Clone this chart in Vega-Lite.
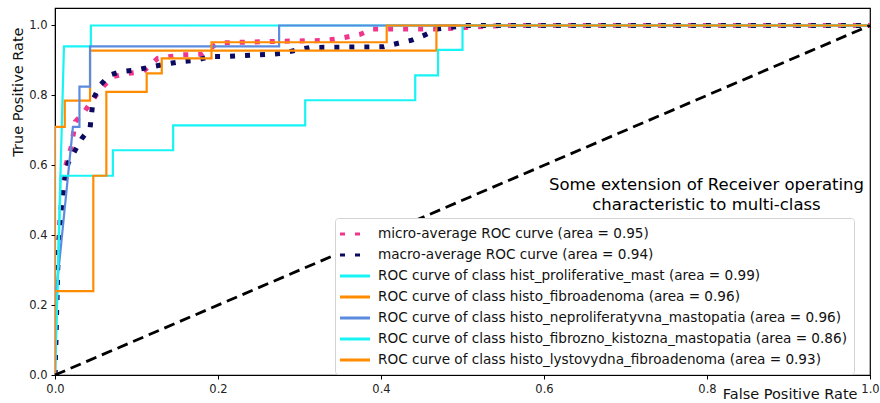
{
  "$schema": "https://vega.github.io/schema/vega-lite/v6.json",
  "autosize": "none",
  "width": 815,
  "height": 367,
  "padding": {"left": 55, "top": 8, "right": 10, "bottom": 28},
  "background": "white",
  "config": {
    "font": "DejaVu Sans",
    "view": {"stroke": "black", "strokeWidth": 1.2},
    "axis": {"grid": false, "labelFont": "DejaVu Sans", "labelFontSize": 11.5, "labelColor": "#222", "labelPadding": 4, "tickColor": "black", "domainColor": "black", "tickSize": 4, "titleFont": "DejaVu Sans", "titleFontWeight": "normal", "titleColor": "#111", "titleFontSize": 14.5}
  },
  "title": {
    "text": ["Some extension of Receiver operating", "characteristic to multi-class"],
    "font": "DejaVu Sans", "fontSize": 16.5, "fontWeight": "normal", "color": "black",
    "anchor": "middle", "frame": "group", "baseline": "top", "offset": 0, "dx": 244, "dy": 205, "lineHeight": 19.5
  },
  "datasets": {
    "curves": [
      {"s": "micro-average ROC curve (area = 0.95)", "i": 0, "x": 0, "y": 0},
      {"s": "micro-average ROC curve (area = 0.95)", "i": 1, "x": 0.003, "y": 0.3},
      {"s": "micro-average ROC curve (area = 0.95)", "i": 2, "x": 0.006, "y": 0.45},
      {"s": "micro-average ROC curve (area = 0.95)", "i": 3, "x": 0.012, "y": 0.59},
      {"s": "micro-average ROC curve (area = 0.95)", "i": 4, "x": 0.02, "y": 0.653},
      {"s": "micro-average ROC curve (area = 0.95)", "i": 5, "x": 0.025, "y": 0.725},
      {"s": "micro-average ROC curve (area = 0.95)", "i": 6, "x": 0.035, "y": 0.75},
      {"s": "micro-average ROC curve (area = 0.95)", "i": 7, "x": 0.049, "y": 0.796},
      {"s": "micro-average ROC curve (area = 0.95)", "i": 8, "x": 0.059, "y": 0.825},
      {"s": "micro-average ROC curve (area = 0.95)", "i": 9, "x": 0.07, "y": 0.853},
      {"s": "micro-average ROC curve (area = 0.95)", "i": 10, "x": 0.09, "y": 0.863},
      {"s": "micro-average ROC curve (area = 0.95)", "i": 11, "x": 0.108, "y": 0.868},
      {"s": "micro-average ROC curve (area = 0.95)", "i": 12, "x": 0.126, "y": 0.906},
      {"s": "micro-average ROC curve (area = 0.95)", "i": 13, "x": 0.157, "y": 0.916},
      {"s": "micro-average ROC curve (area = 0.95)", "i": 14, "x": 0.18, "y": 0.918},
      {"s": "micro-average ROC curve (area = 0.95)", "i": 15, "x": 0.2, "y": 0.95},
      {"s": "micro-average ROC curve (area = 0.95)", "i": 16, "x": 0.28, "y": 0.955},
      {"s": "micro-average ROC curve (area = 0.95)", "i": 17, "x": 0.33, "y": 0.957},
      {"s": "micro-average ROC curve (area = 0.95)", "i": 18, "x": 0.35, "y": 0.963},
      {"s": "micro-average ROC curve (area = 0.95)", "i": 19, "x": 0.375, "y": 0.975},
      {"s": "micro-average ROC curve (area = 0.95)", "i": 20, "x": 0.39, "y": 0.99},
      {"s": "micro-average ROC curve (area = 0.95)", "i": 21, "x": 0.47, "y": 0.99},
      {"s": "micro-average ROC curve (area = 0.95)", "i": 22, "x": 0.55, "y": 1.0},
      {"s": "micro-average ROC curve (area = 0.95)", "i": 23, "x": 1, "y": 1},

      {"s": "macro-average ROC curve (area = 0.94)", "i": 0, "x": 0, "y": 0},
      {"s": "macro-average ROC curve (area = 0.94)", "i": 1, "x": 0.004, "y": 0.36},
      {"s": "macro-average ROC curve (area = 0.94)", "i": 2, "x": 0.01, "y": 0.52},
      {"s": "macro-average ROC curve (area = 0.94)", "i": 3, "x": 0.012, "y": 0.558},
      {"s": "macro-average ROC curve (area = 0.94)", "i": 4, "x": 0.016, "y": 0.606},
      {"s": "macro-average ROC curve (area = 0.94)", "i": 5, "x": 0.025, "y": 0.644},
      {"s": "macro-average ROC curve (area = 0.94)", "i": 6, "x": 0.033, "y": 0.677},
      {"s": "macro-average ROC curve (area = 0.94)", "i": 7, "x": 0.043, "y": 0.706},
      {"s": "macro-average ROC curve (area = 0.94)", "i": 8, "x": 0.045, "y": 0.75},
      {"s": "macro-average ROC curve (area = 0.94)", "i": 9, "x": 0.047, "y": 0.79},
      {"s": "macro-average ROC curve (area = 0.94)", "i": 10, "x": 0.055, "y": 0.828},
      {"s": "macro-average ROC curve (area = 0.94)", "i": 11, "x": 0.067, "y": 0.858},
      {"s": "macro-average ROC curve (area = 0.94)", "i": 12, "x": 0.08, "y": 0.868},
      {"s": "macro-average ROC curve (area = 0.94)", "i": 13, "x": 0.1, "y": 0.873},
      {"s": "macro-average ROC curve (area = 0.94)", "i": 14, "x": 0.119, "y": 0.882},
      {"s": "macro-average ROC curve (area = 0.94)", "i": 15, "x": 0.135, "y": 0.889},
      {"s": "macro-average ROC curve (area = 0.94)", "i": 16, "x": 0.153, "y": 0.896},
      {"s": "macro-average ROC curve (area = 0.94)", "i": 17, "x": 0.172, "y": 0.9},
      {"s": "macro-average ROC curve (area = 0.94)", "i": 18, "x": 0.19, "y": 0.911},
      {"s": "macro-average ROC curve (area = 0.94)", "i": 19, "x": 0.209, "y": 0.911},
      {"s": "macro-average ROC curve (area = 0.94)", "i": 20, "x": 0.26, "y": 0.917},
      {"s": "macro-average ROC curve (area = 0.94)", "i": 21, "x": 0.278, "y": 0.92},
      {"s": "macro-average ROC curve (area = 0.94)", "i": 22, "x": 0.297, "y": 0.93},
      {"s": "macro-average ROC curve (area = 0.94)", "i": 23, "x": 0.313, "y": 0.937},
      {"s": "macro-average ROC curve (area = 0.94)", "i": 24, "x": 0.403, "y": 0.939},
      {"s": "macro-average ROC curve (area = 0.94)", "i": 25, "x": 0.421, "y": 0.949},
      {"s": "macro-average ROC curve (area = 0.94)", "i": 26, "x": 0.438, "y": 0.958},
      {"s": "macro-average ROC curve (area = 0.94)", "i": 27, "x": 0.454, "y": 0.973},
      {"s": "macro-average ROC curve (area = 0.94)", "i": 28, "x": 0.468, "y": 0.99},
      {"s": "macro-average ROC curve (area = 0.94)", "i": 29, "x": 0.505, "y": 1.0},
      {"s": "macro-average ROC curve (area = 0.94)", "i": 30, "x": 1, "y": 1},

      {"s": "ROC curve of class hist_proliferative_mast (area = 0.99)", "i": 0, "x": 0, "y": 0},
      {"s": "ROC curve of class hist_proliferative_mast (area = 0.99)", "i": 1, "x": 0.011, "y": 0.94},
      {"s": "ROC curve of class hist_proliferative_mast (area = 0.99)", "i": 2, "x": 0.044, "y": 0.94},
      {"s": "ROC curve of class hist_proliferative_mast (area = 0.99)", "i": 3, "x": 0.044, "y": 1},
      {"s": "ROC curve of class hist_proliferative_mast (area = 0.99)", "i": 4, "x": 1, "y": 1},

      {"s": "ROC curve of class histo_fibroadenoma (area = 0.96)", "i": 0, "x": 0, "y": 0},
      {"s": "ROC curve of class histo_fibroadenoma (area = 0.96)", "i": 1, "x": 0, "y": 0.71},
      {"s": "ROC curve of class histo_fibroadenoma (area = 0.96)", "i": 2, "x": 0.012, "y": 0.71},
      {"s": "ROC curve of class histo_fibroadenoma (area = 0.96)", "i": 3, "x": 0.012, "y": 0.785},
      {"s": "ROC curve of class histo_fibroadenoma (area = 0.96)", "i": 4, "x": 0.043, "y": 0.785},
      {"s": "ROC curve of class histo_fibroadenoma (area = 0.96)", "i": 5, "x": 0.043, "y": 0.928},
      {"s": "ROC curve of class histo_fibroadenoma (area = 0.96)", "i": 6, "x": 0.468, "y": 0.928},
      {"s": "ROC curve of class histo_fibroadenoma (area = 0.96)", "i": 7, "x": 0.468, "y": 1},
      {"s": "ROC curve of class histo_fibroadenoma (area = 0.96)", "i": 8, "x": 1, "y": 1},

      {"s": "ROC curve of class histo_neproliferatyvna_mastopatia (area = 0.96)", "i": 0, "x": 0, "y": 0},
      {"s": "ROC curve of class histo_neproliferatyvna_mastopatia (area = 0.96)", "i": 1, "x": 0, "y": 0.2},
      {"s": "ROC curve of class histo_neproliferatyvna_mastopatia (area = 0.96)", "i": 2, "x": 0.022, "y": 0.71},
      {"s": "ROC curve of class histo_neproliferatyvna_mastopatia (area = 0.96)", "i": 3, "x": 0.03, "y": 0.71},
      {"s": "ROC curve of class histo_neproliferatyvna_mastopatia (area = 0.96)", "i": 4, "x": 0.03, "y": 0.825},
      {"s": "ROC curve of class histo_neproliferatyvna_mastopatia (area = 0.96)", "i": 5, "x": 0.043, "y": 0.825},
      {"s": "ROC curve of class histo_neproliferatyvna_mastopatia (area = 0.96)", "i": 6, "x": 0.043, "y": 0.94},
      {"s": "ROC curve of class histo_neproliferatyvna_mastopatia (area = 0.96)", "i": 7, "x": 0.275, "y": 0.94},
      {"s": "ROC curve of class histo_neproliferatyvna_mastopatia (area = 0.96)", "i": 8, "x": 0.275, "y": 1},
      {"s": "ROC curve of class histo_neproliferatyvna_mastopatia (area = 0.96)", "i": 9, "x": 1, "y": 1},

      {"s": "ROC curve of class histo_fibrozno_kistozna_mastopatia (area = 0.86)", "i": 0, "x": 0, "y": 0},
      {"s": "ROC curve of class histo_fibrozno_kistozna_mastopatia (area = 0.86)", "i": 1, "x": 0.007, "y": 0.57},
      {"s": "ROC curve of class histo_fibrozno_kistozna_mastopatia (area = 0.86)", "i": 2, "x": 0.071, "y": 0.57},
      {"s": "ROC curve of class histo_fibrozno_kistozna_mastopatia (area = 0.86)", "i": 3, "x": 0.071, "y": 0.643},
      {"s": "ROC curve of class histo_fibrozno_kistozna_mastopatia (area = 0.86)", "i": 4, "x": 0.145, "y": 0.643},
      {"s": "ROC curve of class histo_fibrozno_kistozna_mastopatia (area = 0.86)", "i": 5, "x": 0.145, "y": 0.714},
      {"s": "ROC curve of class histo_fibrozno_kistozna_mastopatia (area = 0.86)", "i": 6, "x": 0.307, "y": 0.714},
      {"s": "ROC curve of class histo_fibrozno_kistozna_mastopatia (area = 0.86)", "i": 7, "x": 0.307, "y": 0.786},
      {"s": "ROC curve of class histo_fibrozno_kistozna_mastopatia (area = 0.86)", "i": 8, "x": 0.442, "y": 0.786},
      {"s": "ROC curve of class histo_fibrozno_kistozna_mastopatia (area = 0.86)", "i": 9, "x": 0.442, "y": 0.857},
      {"s": "ROC curve of class histo_fibrozno_kistozna_mastopatia (area = 0.86)", "i": 10, "x": 0.47, "y": 0.857},
      {"s": "ROC curve of class histo_fibrozno_kistozna_mastopatia (area = 0.86)", "i": 11, "x": 0.47, "y": 0.93},
      {"s": "ROC curve of class histo_fibrozno_kistozna_mastopatia (area = 0.86)", "i": 12, "x": 0.5, "y": 0.93},
      {"s": "ROC curve of class histo_fibrozno_kistozna_mastopatia (area = 0.86)", "i": 13, "x": 0.5, "y": 1},
      {"s": "ROC curve of class histo_fibrozno_kistozna_mastopatia (area = 0.86)", "i": 14, "x": 1, "y": 1},

      {"s": "ROC curve of class histo_lystovydna_fibroadenoma (area = 0.93)", "i": 0, "x": 0, "y": 0},
      {"s": "ROC curve of class histo_lystovydna_fibroadenoma (area = 0.93)", "i": 1, "x": 0, "y": 0.24},
      {"s": "ROC curve of class histo_lystovydna_fibroadenoma (area = 0.93)", "i": 2, "x": 0.047, "y": 0.24},
      {"s": "ROC curve of class histo_lystovydna_fibroadenoma (area = 0.93)", "i": 3, "x": 0.047, "y": 0.57},
      {"s": "ROC curve of class histo_lystovydna_fibroadenoma (area = 0.93)", "i": 4, "x": 0.063, "y": 0.57},
      {"s": "ROC curve of class histo_lystovydna_fibroadenoma (area = 0.93)", "i": 5, "x": 0.063, "y": 0.81},
      {"s": "ROC curve of class histo_lystovydna_fibroadenoma (area = 0.93)", "i": 6, "x": 0.1125, "y": 0.81},
      {"s": "ROC curve of class histo_lystovydna_fibroadenoma (area = 0.93)", "i": 7, "x": 0.1125, "y": 0.863},
      {"s": "ROC curve of class histo_lystovydna_fibroadenoma (area = 0.93)", "i": 8, "x": 0.131, "y": 0.863},
      {"s": "ROC curve of class histo_lystovydna_fibroadenoma (area = 0.93)", "i": 9, "x": 0.131, "y": 0.906},
      {"s": "ROC curve of class histo_lystovydna_fibroadenoma (area = 0.93)", "i": 10, "x": 0.192, "y": 0.906},
      {"s": "ROC curve of class histo_lystovydna_fibroadenoma (area = 0.93)", "i": 11, "x": 0.192, "y": 0.952},
      {"s": "ROC curve of class histo_lystovydna_fibroadenoma (area = 0.93)", "i": 12, "x": 0.407, "y": 0.952},
      {"s": "ROC curve of class histo_lystovydna_fibroadenoma (area = 0.93)", "i": 13, "x": 0.407, "y": 1},
      {"s": "ROC curve of class histo_lystovydna_fibroadenoma (area = 0.93)", "i": 14, "x": 1, "y": 1}
    ],
    "diag": [
      {"x": 0, "y": 0},
      {"x": 1, "y": 1}
    ]
  },
  "encoding": {
    "x": {"field": "x", "type": "quantitative", "scale": {"domain": [0, 1], "nice": false},
          "axis": {"values": [0, 0.2, 0.4, 0.6, 0.8, 1.0], "format": ".1f", "title": "False Positive Rate",
                   "titleAnchor": "end", "titleAlign": "right", "titleX": 802, "titleY": 23, "titleBaseline": "alphabetic", "labelFlush": false}},
    "y": {"field": "y", "type": "quantitative", "scale": {"domain": [0, 1.05], "nice": false},
          "axis": {"values": [0, 0.2, 0.4, 0.6, 0.8, 1.0], "format": ".1f", "title": "True Positive Rate",
                   "titleAnchor": "end", "titleAlign": "right", "titleX": -37, "titleY": 19, "titleBaseline": "middle"}}
  },
  "layer": [
    {
      "data": {"name": "curves"},
      "transform": [{"filter": "indexof(datum.s, 'average') >= 0"}],
      "mark": {"type": "line", "clip": true, "strokeWidth": 5},
      "encoding": {
        "order": {"field": "i", "type": "quantitative"},
        "color": {
          "field": "s", "type": "nominal",
          "scale": {
            "domain": [
              "micro-average ROC curve (area = 0.95)",
              "macro-average ROC curve (area = 0.94)",
              "ROC curve of class hist_proliferative_mast (area = 0.99)",
              "ROC curve of class histo_fibroadenoma (area = 0.96)",
              "ROC curve of class histo_neproliferatyvna_mastopatia (area = 0.96)",
              "ROC curve of class histo_fibrozno_kistozna_mastopatia (area = 0.86)",
              "ROC curve of class histo_lystovydna_fibroadenoma (area = 0.93)"
            ],
            "range": ["#f0368c", "#0a0a60", "#18f4f4", "#ff8c00", "#5b8bdf", "#18f4f4", "#ff8c00"]
          },
          "legend": {
            "title": null, "orient": "none", "legendX": 280, "legendY": 210,
            "symbolType": "M-2,0L2,0", "symbolSize": 225, "symbolOffset": 4, "symbolStrokeWidth": 3,
            "labelFont": "DejaVu Sans", "labelFontSize": 13.6, "labelColor": "#111", "labelLimit": 700, "labelOffset": 14,
            "rowPadding": 5, "padding": 7, "fillColor": "white", "strokeColor": "#d4d4d4", "cornerRadius": 3
          }
        },
        "strokeDash": {
          "field": "s", "type": "nominal",
          "scale": {
            "domain": [
              "micro-average ROC curve (area = 0.95)",
              "macro-average ROC curve (area = 0.94)",
              "ROC curve of class hist_proliferative_mast (area = 0.99)",
              "ROC curve of class histo_fibroadenoma (area = 0.96)",
              "ROC curve of class histo_neproliferatyvna_mastopatia (area = 0.96)",
              "ROC curve of class histo_fibrozno_kistozna_mastopatia (area = 0.86)",
              "ROC curve of class histo_lystovydna_fibroadenoma (area = 0.93)"
            ],
            "range": [[5, 10], [5, 10], [1, 0], [1, 0], [1, 0], [1, 0], [1, 0]]
          }
        }
      }
    },
    {
      "data": {"name": "curves"},
      "transform": [{"filter": "indexof(datum.s, 'average') < 0"}],
      "mark": {"type": "line", "clip": true, "strokeWidth": 2.2},
      "encoding": {
        "order": {"field": "i", "type": "quantitative"},
        "color": {"field": "s", "type": "nominal"},
        "strokeDash": {"field": "s", "type": "nominal"}
      }
    },
    {
      "data": {"name": "diag"},
      "mark": {"type": "line", "color": "black", "strokeWidth": 2.8, "strokeDash": [11, 6]},
      "encoding": {}
    }
  ]
}
